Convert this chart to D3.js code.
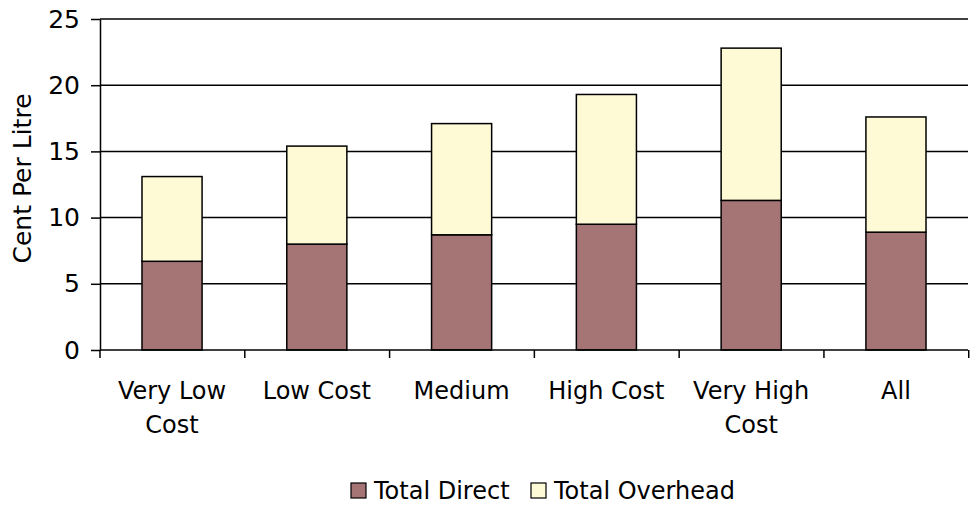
<!DOCTYPE html>
<html lang="en">
<head>
<meta charset="UTF-8">
<title>Cent Per Litre</title>
<script src="https://d3js.org/d3.v7.min.js"></script>
<style>
    body { margin: 0; background: #fff; font-family: "DejaVu Sans", Verdana, sans-serif; }
    svg { display: block; }
    .axis text { fill: #000; font-family: "DejaVu Sans", Verdana, sans-serif; }
    .axis path, .axis line { stroke: #000; stroke-width: 1.5px; }
</style>
</head>
<body>
<svg width="971" height="506"></svg>
<script>
    // categories and the two stacked series (cent per litre)
    let categories = ["Very Low Cost", "Low Cost", "Medium", "High Cost", "Very High Cost", "All"];
    let categoryLines = [["Very Low", "Cost"], ["Low Cost"], ["Medium"], ["High Cost"], ["Very High", "Cost"], ["All"]];
    let totalDirect = [6.7, 8.0, 8.7, 9.5, 11.3, 8.9];
    let totalOverhead = [6.4, 7.4, 8.4, 9.8, 11.5, 8.7];
    let seriesNames = ["Total Direct", "Total Overhead"];
    let seriesColors = ["#a57475", "#fffad6"];
    let yTicks = [0, 5, 10, 15, 20, 25];

    let margin = { top: 19, right: 3, bottom: 156, left: 100 };
    let width = 971 - margin.left - margin.right;
    let height = 506 - margin.top - margin.bottom;

    let svg = d3.select("svg")
        .append("g")
        .attr("transform", `translate(${margin.left},${margin.top})`);

    let x = d3.scaleBand()
        .domain(categories)
        .range([0, width])
        .paddingInner(0.585)
        .paddingOuter(0.29);

    let y = d3.scaleLinear()
        .domain([0, 25])
        .range([height, 0]);

    // gridlines
    svg.append("g")
        .selectAll("line")
        .data(yTicks.slice(1))
        .enter().append("line")
        .attr("x1", 0)
        .attr("x2", width)
        .attr("y1", d => y(d))
        .attr("y2", d => y(d))
        .attr("stroke", "#000")
        .attr("stroke-width", 1.5);

    let rows = categories.map((c, i) => ({ cat: c, "Total Direct": totalDirect[i], "Total Overhead": totalOverhead[i] }));
    let stacked = d3.stack().keys(seriesNames)(rows);

    svg.append("g")
        .selectAll("g")
        .data(stacked)
        .enter().append("g")
        .attr("fill", (d, i) => seriesColors[i])
        .selectAll("rect")
        .data(d => d)
        .enter().append("rect")
        .attr("x", d => x(d.data.cat))
        .attr("width", x.bandwidth())
        .attr("y", d => y(d[1]))
        .attr("height", d => y(d[0]) - y(d[1]))
        .attr("stroke", "#000")
        .attr("stroke-width", 1.5);

    // y axis
    svg.append("g")
        .attr("class", "axis")
        .call(d3.axisLeft(y).tickValues(yTicks).tickSize(9).tickSizeOuter(0).tickPadding(11))
        .selectAll("text")
        .style("font-size", "25px");

    // x axis: ticks at category boundaries
    let step = x.step();
    let xAxis = svg.append("g")
        .attr("class", "axis")
        .attr("transform", `translate(0,${height})`);
    xAxis.append("line")
        .attr("x1", 0).attr("x2", width)
        .attr("stroke", "#000").attr("stroke-width", 1.5);
    xAxis.selectAll("line.tick")
        .data(d3.range(categories.length + 1))
        .enter().append("line")
        .attr("class", "tick")
        .attr("x1", i => i * step).attr("x2", i => i * step)
        .attr("y1", 0).attr("y2", 8)
        .attr("stroke", "#000").attr("stroke-width", 1.5);
    let labels = xAxis.selectAll("text")
        .data(categories)
        .enter().append("text")
        .attr("x", d => x(d) + x.bandwidth() / 2)
        .attr("y", 49)
        .attr("text-anchor", "middle")
        .style("font-size", "24px");
    labels.selectAll("tspan")
        .data((d, i) => categoryLines[i])
        .enter().append("tspan")
        .attr("x", function () { return d3.select(this.parentNode).attr("x"); })
        .attr("dy", (d, i) => i === 0 ? 0 : 34)
        .text(d => d);

    // y title
    svg.append("text")
        .attr("transform", `translate(${-69},${y(12.5) - 6}) rotate(-90)`)
        .attr("text-anchor", "middle")
        .style("font-size", "25px")
        .text("Cent Per Litre");

    // legend
    let legend = svg.append("g")
        .attr("transform", `translate(${351 - margin.left},${483 - margin.top})`);
    let offsets = [0, 180];
    seriesNames.forEach((name, i) => {
        let g = legend.append("g").attr("transform", `translate(${offsets[i]},0)`);
        g.append("rect")
            .attr("width", 15).attr("height", 15)
            .attr("fill", seriesColors[i])
            .attr("stroke", "#000").attr("stroke-width", 1.2);
        g.append("text")
            .attr("x", 23).attr("y", 16)
            .style("font-size", "24px")
            .text(name);
    });
</script>
</body>
</html>
